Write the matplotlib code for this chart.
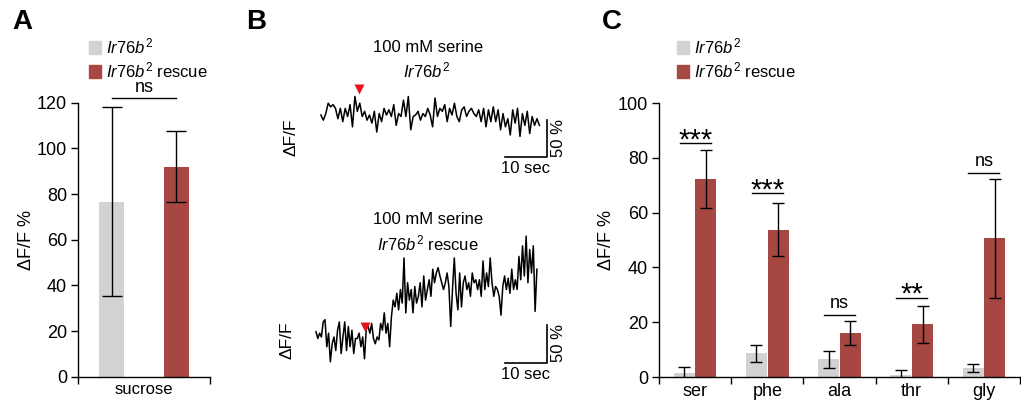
import matplotlib
matplotlib.use("Agg")
import matplotlib.pyplot as plt
import numpy as np
from matplotlib.patches import Patch

plt.rcParams.update({"font.family": ["Liberation Sans", "DejaVu Sans"], "font.size": 12,
                     "mathtext.fontset": "custom", "mathtext.rm": "Liberation Sans",
                     "mathtext.it": "Liberation Sans:italic", "axes.linewidth": 1.0})

GRAY = "#d2d2d2"; RED = "#a64741"
GENO = r"$\mathit{Ir76b}^{\mathrm{2}}$"
GENO_RESCUE = r"$\mathit{Ir76b}^{\mathrm{2}}$ rescue"

# panel A: sucrose
a_mean = [76.6, 92.0]
a_err = [41.4, 15.5]
a_sig = "ns"; a_sig_y = 122

# panel C: amino acids
c_cats = ["ser", "phe", "ala", "thr", "gly"]
c_mut = [1.3, 8.6, 6.5, 0.7, 3.4]
c_mut_err = [2.3, 3.0, 3.1, 1.7, 1.5]
c_res = [72.3, 53.8, 16.0, 19.2, 50.6]
c_res_err = [10.7, 9.8, 4.3, 6.8, 21.8]
c_sig = ["***", "***", "ns", "**", "ns"]
c_sig_y = [85.4, 67.1, 22.6, 29.0, 74.6]

# panel B: dF/F traces (%), 100 mM serine
trace_mut = [0, -7, 2, 16, 11, 14, 9, -5, 9, -9, 9, -2, 14, -16, 25, 5, 16, -2, 5, -7, 0, -11, 5, -23, 2, -9,
             9, 0, 7, -2, 14, -14, 2, -2, 20, -2, 25, -20, -2, 0, 5, -7, 2, -2, 9, 0, -16, 23, -2, 9, 5, 14,
             -9, 9, 0, 16, -2, -9, 7, 11, -2, 5, 9, 2, -2, 7, -9, 9, -16, 7, -9, 11, -9, 7, -20, 2, -16, -5,
             -27, 7, -11, 9, -29, 2, -14, 5, -25, -2, -14, -5, -14]
trace_res = [0, -9, -2, -7, 13, 16, -20, -2, -40, -16, -7, -25, 2, 13, -29, -7, 13, -25, 7, -20, 2, -29, -9,
             -9, -2, -20, -7, -36, 4, 7, -2, 11, -9, -16, -7, -11, 11, 2, 25, -2, 11, -20, 20, 42, 33, 51, 29,
             56, 38, 98, 25, 65, 42, 56, 25, 60, 38, 47, 65, 33, 74, 42, 56, 69, 47, 83, 65, 78, 85, 74, 65,
             56, 65, 78, 60, 7, 56, 98, 51, 29, 78, 33, 65, 74, 56, 65, 47, 78, 65, 69, 56, 69, 47, 94, 56,
             78, 60, 98, 65, 47, 60, 56, 47, 22, 60, 74, 56, 71, 51, 83, 56, 69, 56, 100, 69, 114, 74, 127,
             65, 109, 78, 114, 27, 83]
dur_mut = 52.0; dur_res = 52.6
stim_mut = (9.0, 35); stim_res = (11.7, 6)
bar_sec = 10; bar_pct = 50

W, H = 1021, 405
fig = plt.figure(figsize=(W/100, H/100), dpi=100)
def box(l, t, r, b): return [l/W, 1-b/H, (r-l)/W, (b-t)/H]
def px(x, y): return x/W, 1-y/H

def style(ax):
    for s in ["top", "right"]: ax.spines[s].set_visible(False)
    ax.tick_params(direction="out", length=5, width=1, pad=3, labelsize=13)

def legend(ax, x0, y0):
    ax.legend(handles=[Patch(color=GRAY, label=GENO), Patch(color=RED, label=GENO_RESCUE)],
              loc="upper left", bbox_to_anchor=px(x0, y0), bbox_transform=fig.transFigure, frameon=False,
              borderpad=0, handlelength=0.7, handleheight=0.75, handletextpad=0.3, labelspacing=0.25,
              fontsize=12)

# ---- A
ax = fig.add_axes(box(78, 102.7, 210, 376.7)); style(ax)
off = [-0.245, 0.245]
for o, m, e, c in zip(off, a_mean, a_err, [GRAY, RED]):
    ax.bar(o, m, width=0.19, color=c)
    ax.errorbar(o, m, yerr=e, color="black", lw=1, capsize=7, capthick=1)
ax.plot(off, [a_sig_y]*2, color="black", lw=1, clip_on=False)
ax.text(0, a_sig_y+4.5, a_sig, ha="center", va="center", fontsize=13)
ax.set(xlim=(-0.5, 0.5), ylim=(0, 120), yticks=range(0, 121, 20))
ax.set_xticks([-0.5, 0.5]); ax.set_xticklabels(["", ""])
ax.set_xticks([0], minor=True); ax.set_xticklabels(["sucrose"], minor=True)
ax.tick_params(axis="x", which="minor", length=0, pad=4, labelsize=12)
ax.set_ylabel("ΔF/F %", fontsize=13, labelpad=1)
legend(ax, 81, 28)

# ---- C
ax = fig.add_axes(box(659, 103, 1020, 377)); style(ax)
x = np.arange(len(c_cats))
ax.bar(x-0.15, c_mut, width=0.29, color=GRAY)
ax.bar(x+0.15, c_res, width=0.29, color=RED)
ax.errorbar(x-0.15, c_mut, yerr=c_mut_err, fmt="none", ecolor="black", lw=1, capsize=4.5, capthick=1)
ax.errorbar(x+0.15, c_res, yerr=c_res_err, fmt="none", ecolor="black", lw=1, capsize=4.5, capthick=1)
for xi, s, y in zip(x, c_sig, c_sig_y):
    ax.plot([xi-0.215, xi+0.215], [y, y], color="black", lw=1)
    if s == "ns": ax.text(xi, y+4.2, s, ha="center", va="center", fontsize=13)
    else: ax.text(xi, y+1.0, s, ha="center", va="center", fontsize=21)
ax.set(xlim=(-0.5, 4.5), ylim=(0, 100), yticks=range(0, 101, 20))
ax.set_xticks(np.arange(-0.5, 5, 1)); ax.set_xticklabels([""]*6)
ax.set_xticks(x, minor=True); ax.set_xticklabels(c_cats, minor=True)
ax.tick_params(axis="x", which="minor", length=0, pad=4, labelsize=13)
ax.set_ylabel("ΔF/F %", fontsize=13, labelpad=2)
legend(ax, 669, 28)

# ---- B traces
def trace(rect, xlim, ylim, vals, dur, stim, corner, txt_sec, txt_pct):
    ax = fig.add_axes(box(*rect)); ax.axis("off"); ax.set(xlim=xlim, ylim=ylim)
    t = np.linspace(0, dur, len(vals))
    ax.plot(t, vals, color="black", lw=1.1)
    ax.plot(*stim, marker="v", color="#e8141c", ms=7.5, mec="none")
    cx, cy = corner
    ax.plot([cx-bar_sec, cx, cx], [cy, cy, cy+bar_pct], color="black", lw=1.2, clip_on=False)
    ax.text(*txt_sec, f"{bar_sec} sec", ha="center", va="center", clip_on=False, fontsize=12)
    ax.text(*txt_pct, f"{bar_pct} %", ha="center", va="center", rotation=90, clip_on=False, fontsize=12)

trace((310, 80, 560, 170), (-2.6, 56.9), (-74.3, 47.3), trace_mut, dur_mut, stim_mut,
      (53.7, -56.4), (48.7, -71.6), (56.6, -31))
trace((310, 225, 560, 375), (-1.43, 58.1), (-57.5, 141.7), trace_res, dur_res, stim_res,
      (54.9, -41.6), (49.9, -56.2), (57.8, -15))
fig.text(*px(428, 47), "100 mM serine", ha="center", va="center", fontsize=12)
fig.text(*px(427, 70), GENO, ha="center", va="center", fontsize=12)
fig.text(*px(428, 219), "100 mM serine", ha="center", va="center", fontsize=12)
fig.text(*px(428, 243), GENO_RESCUE, ha="center", va="center", fontsize=12)
fig.text(*px(291, 137), "ΔF/F", rotation=90, ha="center", va="center", fontsize=12.5)
fig.text(*px(287, 340), "ΔF/F", rotation=90, ha="center", va="center", fontsize=12.5)

for lab, xx in [("A", 22), ("B", 256), ("C", 612)]:
    fig.text(*px(xx, 22), lab, ha="center", va="center", fontsize=20, fontweight="bold")

fig.savefig("out.png", dpi=100)
